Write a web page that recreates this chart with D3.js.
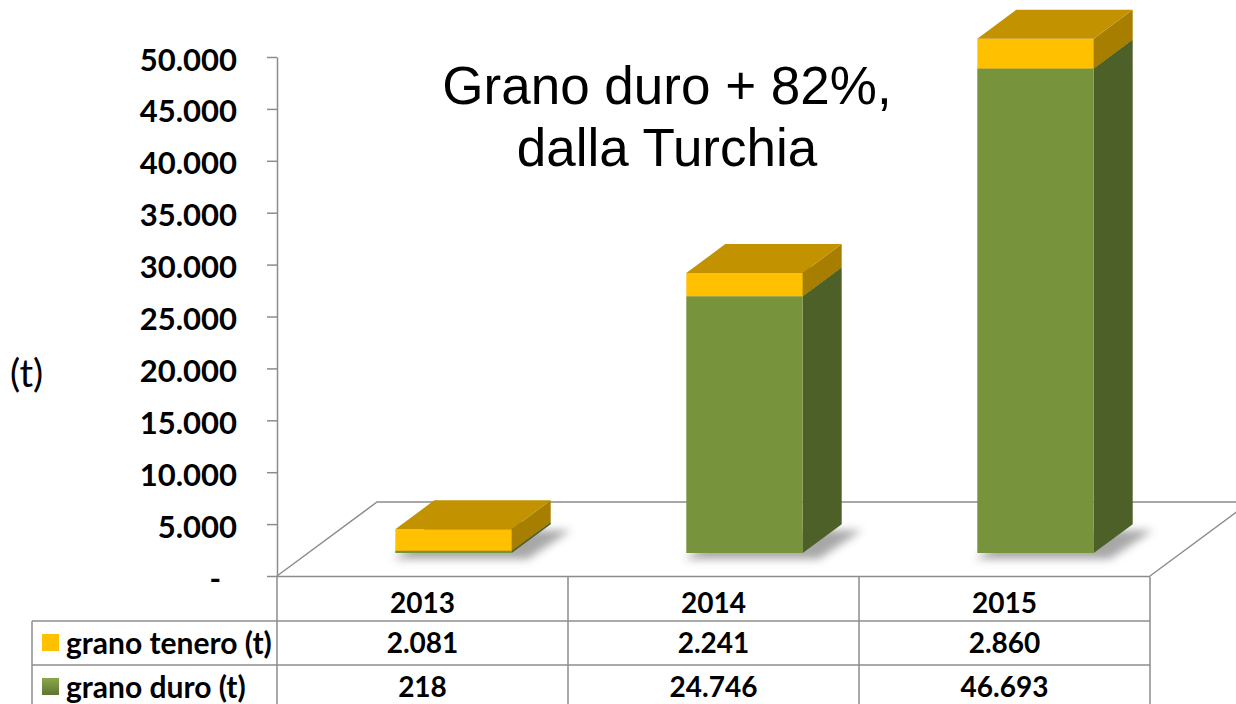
<!DOCTYPE html>
<html>
<head>
<meta charset="utf-8">
<script src="https://cdn.jsdelivr.net/npm/d3@7"></script>
<style>
    html, body { margin: 0; padding: 0; background: #fff; }
    svg { display: block; }
    .axis text { font-family: Lato, "Open Sans", sans-serif; font-weight: 700; font-size: 31px; fill: #000; }
    .axis line, .axis path { stroke: #8c8c8c; stroke-width: 1.5; }
</style>
</head>
<body>
<svg id="chart" width="1236" height="704"></svg>
<script>
// Data
const years = ['2013', '2014', '2015'];
const granoTenero = [2081, 2241, 2860];
const granoDuro = [218, 24746, 46693];
const yTicks = [0, 5000, 10000, 15000, 20000, 25000, 30000, 35000, 40000, 45000, 50000];
const seriesLabels = ['grano tenero (t)', 'grano duro (t)'];
const titleLines = ['Grano duro + 82%,', 'dalla Turchia'];

const svg = d3.select('#chart');
const fmt = d3.formatLocale({ decimal: ',', thousands: '.', grouping: [3], currency: ['€', ''] }).format(',d');

// Scales
const x = d3.scaleBand().domain(years).range([277, 1150]);
const y = d3.scaleLinear().domain([0, 50000]).range([576, 57]);

// 3D floor depth (full floor goes 100px right and 74px up)
const DX = 100, DY = -74;
const zFront = 0.31, zBack = 0.70;
const proj = (px, v, z) => [px + z * DX, y(v) + z * DY];

const defs = svg.append('defs');
defs.append('filter').attr('id', 'blur')
    .attr('x', '-50%').attr('y', '-50%').attr('width', '200%').attr('height', '200%')
    .append('feGaussianBlur').attr('stdDeviation', 4);

const grad = defs.append('linearGradient').attr('id', 'greenSq')
    .attr('x1', 0).attr('y1', 0).attr('x2', 0).attr('y2', 1);
grad.append('stop').attr('offset', '0%').attr('stop-color', '#8aa84a');
grad.append('stop').attr('offset', '100%').attr('stop-color', '#5d7530');

// Floor outline
const x0 = x.range()[0], x1 = x.range()[1];
svg.append('path')
    .attr('d', d3.line()([proj(x0, 0, 0), proj(x0, 0, 1), [1240, y(0) + DY]]))
    .attr('fill', 'none').attr('stroke', '#8c8c8c').attr('stroke-width', 1.5);
svg.append('path')
    .attr('d', d3.line()([proj(x1, 0, 0), proj(x1, 0, 1)]))
    .attr('fill', 'none').attr('stroke', '#8c8c8c').attr('stroke-width', 1.5);

// Bars
const barW = x.bandwidth() * 0.4;
const data = years.map((yr, i) => ({ year: yr, duro: granoDuro[i], tenero: granoTenero[i] }));

const bars = svg.selectAll('.bar').data(data).join('g').attr('class', 'bar');

function box(g, left, v0, v1, colors) {
    const right = left + barW;
    const f = [proj(left, v0, zFront), proj(right, v0, zFront), proj(right, v1, zFront), proj(left, v1, zFront)];
    const side = [proj(right, v0, zFront), proj(right, v0, zBack), proj(right, v1, zBack), proj(right, v1, zFront)];
    const top = [proj(left, v1, zFront), proj(right, v1, zFront), proj(right, v1, zBack), proj(left, v1, zBack)];
    const poly = pts => 'M' + pts.map(p => p.join(',')).join('L') + 'Z';
    g.append('path').attr('d', poly(side)).attr('fill', colors.side);
    g.append('path').attr('d', poly(f)).attr('fill', colors.front);
    g.append('path').attr('d', poly(top)).attr('fill', colors.top);
}

bars.each(function (d) {
    const g = d3.select(this);
    const left = x(d.year) + (x.bandwidth() - barW) / 2;
    const right = left + barW;
    // soft shadow at the foot of the bar
    const sh = [proj(left - 8, 0, zFront), proj(right + 10, 0, zFront), proj(right + 14, 0, zBack), proj(left - 4, 0, zBack)]
        .map(p => [p[0] + 6, p[1] + 6]);
    g.append('path')
        .attr('d', 'M' + sh.map(p => p.join(',')).join('L') + 'Z')
        .attr('fill', '#8a8a8a').attr('opacity', 0.75).attr('filter', 'url(#blur)');
    box(g, left, 0, d.duro, { front: '#77933c', side: '#4d6028', top: '#5f7a2e' });
    box(g, left, d.duro, d.duro + d.tenero, { front: '#ffc000', side: '#a87e00', top: '#c29200' });
});

// Y axis
const yAxis = d3.axisLeft(y)
    .tickValues(yTicks)
    .tickSize(10)
    .tickSizeOuter(0)
    .tickPadding(30)
    .tickFormat(d => d === 0 ? '-' : fmt(d));

const ax = svg.append('g')
    .attr('class', 'axis')
    .attr('transform', `translate(${x0},0)`)
    .call(yAxis);
ax.selectAll('text').attr('dy', '0.42em');
ax.selectAll('.tick').filter(d => d === 0).select('text').attr('dx', -16);

// Axis unit
svg.append('text')
    .attr('x', 10).attr('y', 374).attr('dy', '0.35em')
    .attr('font-family', 'Lato, sans-serif').attr('font-size', '38px')
    .text('(t)');

// Title
svg.append('text')
    .attr('x', 667).attr('y', 104)
    .attr('text-anchor', 'middle')
    .attr('font-family', '"Liberation Sans", Arial, sans-serif')
    .attr('font-size', '53px')
    .selectAll('tspan')
    .data(titleLines)
    .join('tspan')
    .attr('x', 667)
    .attr('dy', (d, i) => i === 0 ? 0 : 62)
    .text(d => d);

// Data table
const rowTop = [576.5, 621, 665];
const tableLeft = 32;
const lines = svg.append('g').attr('stroke', '#8c8c8c').attr('stroke-width', 1.5);
lines.append('line').attr('x1', x0).attr('x2', x1).attr('y1', rowTop[0]).attr('y2', rowTop[0]);
rowTop.slice(1).forEach(ry => {
    lines.append('line').attr('x1', tableLeft).attr('x2', x1).attr('y1', ry).attr('y2', ry);
});
lines.append('line').attr('x1', tableLeft).attr('x2', tableLeft).attr('y1', rowTop[1]).attr('y2', 704);
[x0, ...years.map(yr => x(yr) + x.bandwidth())].forEach(cx => {
    lines.append('line').attr('x1', cx).attr('x2', cx).attr('y1', rowTop[0]).attr('y2', 704);
});

const tableText = svg.append('g')
    .attr('font-family', 'Lato, "Open Sans", sans-serif')
    .attr('font-weight', 700)
    .attr('font-size', '28px')
    .attr('text-anchor', 'middle');

tableText.selectAll('.hdr').data(years).join('text')
    .attr('class', 'hdr')
    .attr('x', d => x(d) + x.bandwidth() / 2)
    .attr('y', 603).attr('dy', '0.35em')
    .text(d => d);

const rows = [granoTenero, granoDuro];
const rowY = [643, 687];
rows.forEach((vals, r) => {
    tableText.selectAll('.r' + r).data(vals).join('text')
        .attr('class', 'r' + r)
        .attr('x', (d, i) => x(years[i]) + x.bandwidth() / 2)
        .attr('y', rowY[r]).attr('dy', '0.35em')
        .text(d => fmt(d));
});

// Row labels with legend keys
const keyFill = ['#ffc000', 'url(#greenSq)'];
seriesLabels.forEach((lab, r) => {
    svg.append('rect')
        .attr('x', 42).attr('y', rowY[r] - 9)
        .attr('width', 17).attr('height', 17)
        .attr('fill', keyFill[r]);
    svg.append('text')
        .attr('x', 66).attr('y', rowY[r]).attr('dy', '0.35em')
        .attr('font-family', 'Lato, "Open Sans", sans-serif')
        .attr('font-weight', 700).attr('font-size', '30px')
        .text(lab);
});
</script>
</body>
</html>
